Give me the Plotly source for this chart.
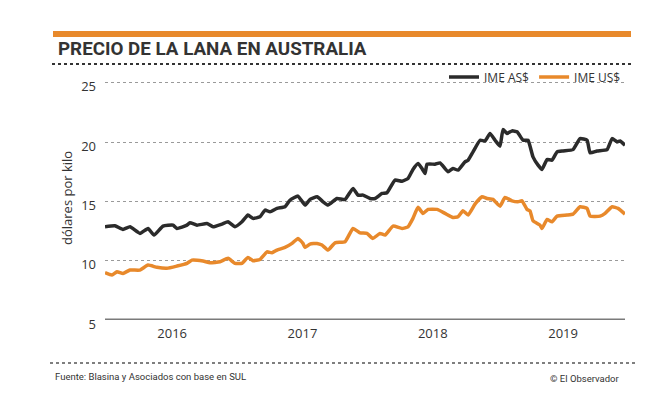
import plotly.graph_objects as go

# ---- data (decimal year, dollars per kilo) ----
as_years = [2015.985, 2016.061, 2016.123, 2016.177, 2016.253, 2016.315, 2016.361, 2016.430,
            2016.507, 2016.537, 2016.614, 2016.637, 2016.691, 2016.767, 2016.814, 2016.883,
            2016.929, 2016.982, 2017.036, 2017.082, 2017.120, 2017.174, 2017.213, 2017.251,
            2017.305, 2017.366, 2017.404, 2017.466, 2017.520, 2017.558, 2017.612, 2017.658,
            2017.696, 2017.765, 2017.827, 2017.888, 2017.926, 2017.965, 2018.018, 2018.057,
            2018.111, 2018.149, 2018.210, 2018.264, 2018.310, 2018.348, 2018.387, 2018.417,
            2018.441, 2018.456, 2018.517, 2018.556, 2018.617, 2018.655, 2018.694, 2018.747,
            2018.771, 2018.809, 2018.863, 2018.901, 2018.939, 2018.978, 2019.016, 2019.039,
            2019.070, 2019.108, 2019.147, 2019.193, 2019.231, 2019.269, 2019.308, 2019.338,
            2019.377, 2019.415, 2019.454, 2019.500, 2019.576, 2019.630, 2019.684, 2019.707,
            2019.761, 2019.837, 2019.876, 2019.914, 2019.937, 2019.975]
ime_as = [12.86, 12.95, 12.64, 12.86, 12.30, 12.72, 12.16, 12.92,
          13.00, 12.72, 13.00, 13.20, 13.00, 13.14, 12.86, 13.09,
          13.28, 12.86, 13.28, 13.85, 13.57, 13.70, 14.27, 14.12,
          14.41, 14.55, 15.10, 15.45, 14.69, 15.17, 15.39, 14.97,
          14.69, 15.25, 15.17, 16.10, 15.53, 15.53, 15.25, 15.25,
          15.67, 15.73, 16.80, 16.71, 16.94, 17.70, 18.20, 17.78,
          17.36, 18.14, 18.14, 18.25, 17.50, 17.78, 17.64, 18.34,
          18.48, 19.18, 20.16, 20.10, 20.73, 20.16, 19.66, 21.06,
          20.73, 20.95, 20.87, 20.16, 20.16, 18.76, 18.06, 17.70,
          18.54, 18.48, 19.18, 19.26, 19.37, 20.30, 20.16, 19.10,
          19.26, 19.37, 20.30, 20.02, 20.10, 19.74]

us_years = [2015.985, 2016.038, 2016.077, 2016.123, 2016.177, 2016.253, 2016.315, 2016.384,
            2016.460, 2016.537, 2016.614, 2016.652, 2016.737, 2016.790, 2016.867, 2016.929,
            2016.982, 2017.036, 2017.082, 2017.120, 2017.174, 2017.228, 2017.266, 2017.305,
            2017.366, 2017.420, 2017.466, 2017.504, 2017.520, 2017.558, 2017.612, 2017.650,
            2017.696, 2017.750, 2017.827, 2017.888, 2017.942, 2017.995, 2018.041, 2018.095,
            2018.134, 2018.195, 2018.264, 2018.310, 2018.348, 2018.387, 2018.425, 2018.464,
            2018.533, 2018.594, 2018.655, 2018.694, 2018.732, 2018.771, 2018.824, 2018.878,
            2018.916, 2018.962, 2019.016, 2019.054, 2019.108, 2019.154, 2019.185, 2019.223,
            2019.246, 2019.269, 2019.323, 2019.338, 2019.377, 2019.415, 2019.454, 2019.530,
            2019.576, 2019.630, 2019.684, 2019.707, 2019.784, 2019.822, 2019.876, 2019.922,
            2019.975]
ime_us = [8.99, 8.79, 9.07, 8.93, 9.21, 9.21, 9.63, 9.44,
          9.36, 9.55, 9.78, 10.05, 9.97, 9.83, 9.91, 10.20,
          9.78, 9.78, 10.28, 10.00, 10.11, 10.75, 10.67, 10.90,
          11.12, 11.46, 11.88, 11.46, 11.12, 11.40, 11.46, 11.32,
          10.90, 11.51, 11.60, 12.72, 12.35, 12.30, 11.88, 12.30,
          12.16, 12.92, 12.72, 12.86, 13.57, 14.50, 13.99, 14.33,
          14.33, 13.99, 13.65, 13.70, 14.21, 13.85, 14.77, 15.39,
          15.25, 15.17, 14.60, 15.33, 15.05, 14.97, 15.05, 14.33,
          14.21, 13.37, 13.00, 12.72, 13.48, 13.28, 13.76, 13.85,
          13.93, 14.55, 14.41, 13.76, 13.76, 13.99, 14.55, 14.41,
          13.93]

year_ticks = [2016.5, 2017.5, 2018.5, 2019.5]
year_labels = ["2016", "2017", "2018", "2019"]
y_ticks = [5, 10, 15, 20, 25]

title = "PRECIO DE LA LANA EN AUSTRALIA"
y_title = "dólares por kilo"
source = "Fuente: Blasina y Asociados con base en SUL"
credit = "© El Observador"

# ---- layout geometry (page body has an 8px margin) ----
OFF = 8
W, H = 665 - OFF, 399 - OFF
L, R, T, B = 105 - OFF, 40, 71 - OFF, 79
PW, PH = W - L - R, H - T - B

def px(p):
    return (p - OFF - L) / PW

def py(p):
    return (H - B - (p - OFF)) / PH

BLACK = "#2b2b2b"
ORANGE = "#e8892b"

fig = go.Figure()
fig.add_trace(go.Scatter(x=as_years, y=ime_as, mode="lines", name="IME AS$",
                         line=dict(color=BLACK, width=3.5, shape="spline", smoothing=0.4)))
fig.add_trace(go.Scatter(x=us_years, y=ime_us, mode="lines", name="IME US$",
                         line=dict(color=ORANGE, width=3.5, shape="spline", smoothing=0.4)))

fig.update_layout(
    width=W, height=H,
    margin=dict(l=L, r=R, t=T, b=B),
    paper_bgcolor="white", plot_bgcolor="white",
    font=dict(family="Open Sans", color="#333333", size=13),
    showlegend=True,
    legend=dict(orientation="h", x=px(626), xanchor="right", y=py(77), yanchor="middle",
                font=dict(family="Open Sans", size=12, color="#333333"),
                bgcolor="rgba(0,0,0,0)", itemwidth=30, tracegroupgap=0,
                traceorder="normal"),
    xaxis=dict(range=[2015.985, 2019.975], tickvals=year_ticks, ticktext=year_labels,
               showgrid=False, zeroline=False, showline=False, ticks="",
               ticklabelstandoff=4, tickfont=dict(size=13, color="#333333"),
               fixedrange=True),
    yaxis=dict(range=[5, 26], tickvals=y_ticks, showgrid=True, gridcolor="#9a9a9a",
               griddash="dot", gridwidth=1, zeroline=False, showline=False, ticks="",
               ticklabelstandoff=8, ticklabelshift=4,
               tickfont=dict(size=13, color="#333333"),
               fixedrange=True),
)

shapes = [
    # orange top bar
    dict(type="line", xref="paper", yref="paper", x0=px(53), x1=px(631), y0=py(34), y1=py(34),
         line=dict(color=ORANGE, width=6)),
    # dotted line below title
    dict(type="line", xref="paper", yref="paper", x0=px(52), x1=px(632), y0=py(64), y1=py(64),
         line=dict(color="#333333", width=2, dash="dot")),
    # baseline at 5
    dict(type="line", xref="paper", yref="y", x0=0, x1=1, y0=5, y1=5,
         line=dict(color="#7a7a7a", width=3)),
    # bottom dotted line
    dict(type="line", xref="paper", yref="paper", x0=px(50), x1=px(636), y0=py(363), y1=py(363),
         line=dict(color="#555555", width=1.5, dash="dot")),
]
fig.update_layout(shapes=shapes)

annotations = [
    dict(text="<b>" + title + "</b>", xref="paper", yref="paper", x=px(56), y=py(49),
         xanchor="left", yanchor="middle", showarrow=False,
         font=dict(family="Roboto", size=18.8, color="#333333")),
    dict(text=y_title, xref="paper", yref="paper", x=px(67), y=py(198), textangle=-90,
         xanchor="center", yanchor="middle", showarrow=False,
         font=dict(family="Open Sans", size=13, color="#333333")),
    dict(text=source, xref="paper", yref="paper", x=px(53), y=py(376),
         xanchor="left", yanchor="middle", showarrow=False,
         font=dict(family="Roboto", size=9.5, color="#333333")),
    dict(text=credit, xref="paper", yref="paper", x=px(621), y=py(378),
         xanchor="right", yanchor="middle", showarrow=False,
         font=dict(family="Roboto", size=9.5, color="#333333")),
]
fig.update_layout(annotations=annotations)

fig.write_html("out.html")
